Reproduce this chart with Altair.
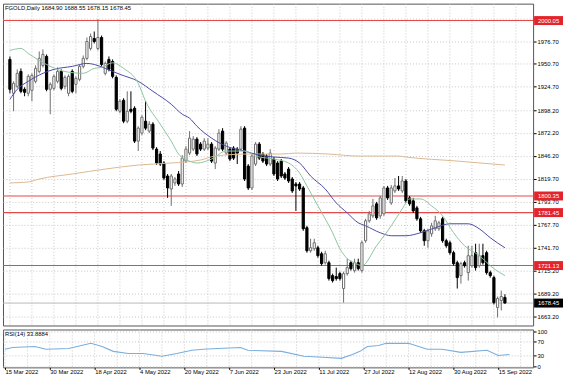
import altair as alt
import pandas as pd

FONT = "Liberation Sans"
FS = 5.9

title_text = "FGOLD,Daily 1684.90 1688.55 1678.15 1678.45"
rsi_title = "RSI(14) 33.8884"

opens = [1955.8, 1917.3, 1925.2, 1942.2, 1921.8, 1917.3, 1920.6, 1930.9, 1942.2, 1949.0,
         1959.2, 1921.8, 1922.9, 1930.9, 1942.2, 1925.2, 1917.3, 1942.2, 1927.5, 1933.1,
         1947.9, 1957.0, 1968.3, 1979.6, 1968.3, 1980.8, 1940.0, 1955.8, 1953.5, 1935.4,
         1896.8, 1909.3, 1885.5, 1899.1, 1900.2, 1862.8, 1871.9, 1885.5, 1874.2, 1882.1,
         1853.7, 1848.1, 1837.9, 1823.1, 1808.3, 1815.2, 1825.4, 1814.0, 1840.1, 1849.2,
         1853.7, 1865.1, 1859.4, 1853.7, 1854.9, 1859.4, 1837.9, 1853.7, 1874.2, 1849.2,
         1853.7, 1854.9, 1853.7, 1853.7, 1877.6, 1834.4, 1809.5, 1836.7, 1859.4, 1848.1,
         1845.8, 1836.7, 1842.4, 1837.9, 1840.1, 1825.4, 1831.0, 1819.7, 1814.0, 1814.0,
         1809.5, 1764.2, 1738.0, 1740.3, 1741.4, 1734.6, 1724.4, 1724.4, 1709.7, 1708.6,
         1712.0, 1695.0, 1712.0, 1724.4, 1715.4, 1724.4, 1715.4, 1749.4, 1772.1, 1777.7,
         1791.4, 1777.7, 1780.0, 1809.5, 1792.5, 1806.1, 1811.8, 1806.1, 1817.4, 1798.2,
         1794.8, 1786.8, 1774.4, 1760.7, 1749.4, 1757.3, 1763.0, 1763.0, 1774.4, 1749.4,
         1747.1, 1735.8, 1724.4, 1709.7, 1724.4, 1713.1, 1721.0, 1735.8, 1721.0, 1732.4,
         1735.8, 1713.1, 1707.4, 1673.4, 1681.3, 1684.90]
highs = [1959.2, 1930.9, 1944.5, 1945.6, 1924.1, 1938.8, 1940.0, 1949.0, 1964.9, 1967.2,
         1961.5, 1929.7, 1938.8, 1946.7, 1944.5, 1937.7, 1938.8, 1944.5, 1936.5, 1950.1,
         1960.3, 1980.8, 1985.3, 1987.6, 2001.5, 1983.0, 1953.5, 1959.2, 1955.8, 1937.7,
         1910.4, 1911.6, 1919.5, 1919.5, 1902.5, 1879.8, 1892.3, 1908.2, 1885.5, 1884.4,
         1856.0, 1851.5, 1840.1, 1825.4, 1825.4, 1822.0, 1828.8, 1846.9, 1857.1, 1874.2,
         1868.5, 1867.4, 1861.7, 1866.2, 1866.2, 1861.7, 1857.1, 1876.4, 1877.6, 1862.8,
         1856.0, 1857.1, 1856.0, 1879.8, 1879.8, 1836.7, 1848.1, 1861.7, 1861.7, 1850.3,
         1848.1, 1853.7, 1844.7, 1840.1, 1842.4, 1827.6, 1833.3, 1822.0, 1816.3, 1816.3,
         1811.8, 1766.4, 1751.7, 1751.7, 1743.7, 1736.9, 1738.0, 1726.7, 1712.0, 1718.8,
         1714.2, 1714.2, 1729.0, 1726.7, 1729.0, 1729.0, 1749.4, 1774.4, 1783.4, 1797.0,
         1793.6, 1800.4, 1811.8, 1811.8, 1812.9, 1820.8, 1823.1, 1823.1, 1819.7, 1800.4,
         1798.2, 1789.1, 1776.6, 1763.0, 1763.0, 1769.8, 1777.7, 1772.1, 1776.6, 1751.7,
         1749.4, 1738.0, 1726.7, 1725.6, 1726.7, 1743.7, 1743.7, 1746.0, 1746.0, 1746.0,
         1738.0, 1715.4, 1709.7, 1685.9, 1692.7, 1688.55]
lows = [1917.3, 1896.8, 1922.9, 1917.3, 1913.9, 1913.9, 1908.2, 1928.6, 1940.0, 1946.7,
        1919.5, 1893.4, 1920.6, 1928.6, 1920.6, 1921.8, 1913.9, 1917.3, 1917.3, 1930.9,
        1945.6, 1954.7, 1966.0, 1974.0, 1966.0, 1947.9, 1937.7, 1942.2, 1934.3, 1896.8,
        1894.6, 1883.2, 1883.2, 1894.6, 1860.6, 1851.5, 1869.6, 1875.3, 1871.9, 1852.6,
        1835.6, 1834.4, 1818.6, 1798.2, 1789.1, 1811.8, 1811.8, 1810.6, 1837.9, 1846.9,
        1851.5, 1845.8, 1851.5, 1851.5, 1852.6, 1837.9, 1831.0, 1851.5, 1851.5, 1846.9,
        1840.1, 1841.3, 1836.7, 1851.5, 1817.4, 1807.2, 1807.2, 1834.4, 1841.3, 1837.9,
        1834.4, 1834.4, 1823.1, 1817.4, 1820.8, 1818.6, 1815.2, 1803.8, 1783.4, 1806.1,
        1760.7, 1735.8, 1735.8, 1738.0, 1730.1, 1721.0, 1722.2, 1704.0, 1701.8, 1704.0,
        1704.0, 1679.0, 1709.7, 1715.4, 1713.1, 1715.4, 1713.1, 1747.1, 1769.8, 1775.5,
        1773.2, 1774.4, 1777.7, 1795.9, 1790.2, 1803.8, 1806.1, 1803.8, 1792.5, 1789.1,
        1781.1, 1772.1, 1758.5, 1743.7, 1741.4, 1753.9, 1760.7, 1760.7, 1747.1, 1741.4,
        1733.5, 1721.0, 1695.0, 1700.6, 1718.8, 1704.0, 1718.8, 1715.4, 1718.8, 1722.2,
        1710.8, 1707.4, 1676.8, 1662.1, 1670.0, 1678.15]
closes = [1921.8, 1928.6, 1940.0, 1919.5, 1918.4, 1936.5, 1937.7, 1945.6, 1957.0, 1961.5,
          1921.8, 1927.5, 1936.5, 1942.2, 1922.9, 1935.4, 1936.5, 1919.5, 1934.3, 1947.9,
          1957.0, 1976.2, 1981.9, 1976.2, 1980.8, 1950.1, 1951.3, 1944.5, 1936.5, 1899.1,
          1908.2, 1885.5, 1896.8, 1896.8, 1862.8, 1877.6, 1890.0, 1877.6, 1882.1, 1854.9,
          1837.9, 1836.7, 1820.8, 1809.5, 1823.1, 1819.7, 1814.0, 1843.5, 1853.7, 1866.2,
          1865.1, 1848.1, 1853.7, 1862.8, 1859.4, 1840.1, 1854.9, 1871.9, 1853.7, 1860.6,
          1842.4, 1843.5, 1849.2, 1876.4, 1819.7, 1809.5, 1845.8, 1859.4, 1843.5, 1840.1,
          1836.7, 1849.2, 1825.4, 1819.7, 1823.1, 1820.8, 1817.4, 1806.1, 1811.8, 1808.3,
          1763.0, 1738.0, 1741.4, 1747.1, 1732.4, 1723.3, 1734.6, 1706.3, 1704.0, 1706.3,
          1706.3, 1712.0, 1718.8, 1717.6, 1724.4, 1717.6, 1747.1, 1772.1, 1780.0, 1789.1,
          1775.5, 1798.2, 1809.5, 1798.2, 1809.5, 1811.8, 1808.3, 1817.4, 1794.8, 1791.4,
          1783.4, 1774.4, 1760.7, 1749.4, 1760.7, 1766.4, 1772.1, 1769.8, 1749.4, 1743.7,
          1735.8, 1723.3, 1707.4, 1723.3, 1721.0, 1732.4, 1732.4, 1718.8, 1732.4, 1724.4,
          1713.1, 1709.7, 1679.0, 1683.6, 1685.9, 1678.45]

# moving averages (bar index, value)
ma_fast_idx = [0, 3, 5, 10, 15, 20, 23, 25, 28, 31, 35, 37, 41, 44, 46, 49, 51, 55, 59, 64, 67, 72,
               76, 79, 81, 84, 88, 90, 92, 94, 96, 100, 104, 107, 109, 112, 115, 118, 121, 124,
               128, 132, 135]
ma_fast = [1966.0, 1968.3, 1962.6, 1950.0, 1942.0, 1940.0, 1945.6, 1946.7, 1952.0, 1945.6,
           1928.6, 1908.2, 1882.1, 1862.8, 1848.1, 1840.1, 1837.9, 1842.4, 1851.5, 1851.5,
           1845.8, 1842.4, 1837.9, 1826.5, 1811.8, 1789.1, 1758.5, 1740.3, 1729.0, 1724.4,
           1721.0, 1743.7, 1766.4, 1785.7, 1797.0, 1797.0, 1789.1, 1777.7, 1758.5, 1743.7,
           1732.4, 1717.6, 1709.7]
ma_mid_idx = [0, 2, 5, 9, 12, 17, 21, 23, 26, 30, 35, 39, 44, 47, 49, 51, 55, 59, 64, 68, 72, 76,
              79, 82, 86, 89, 92, 95, 97, 101, 104, 108, 112, 116, 120, 125, 128, 131, 135]
ma_mid = [1910.4, 1921.8, 1930.9, 1940.0, 1944.5, 1947.9, 1951.3, 1950.1, 1945.6, 1938.8,
          1930.9, 1919.5, 1904.8, 1893.4, 1888.9, 1879.8, 1866.2, 1857.1, 1851.5, 1846.9,
          1844.7, 1843.5, 1837.9, 1823.1, 1808.3, 1792.5, 1781.1, 1769.8, 1766.4, 1758.5,
          1755.1, 1755.1, 1758.5, 1764.2, 1768.7, 1768.7, 1763.0, 1752.8, 1741.4]
ma_slow_idx = [0, 5, 8, 17, 26, 35, 44, 52, 56, 65, 74, 78, 87, 95, 106, 108, 122, 135]
ma_slow = [1815.2, 1816.3, 1819.7, 1825.4, 1831.0, 1835.6, 1837.9, 1841.3, 1845.8, 1848.1,
           1848.1, 1849.2, 1848.1, 1845.8, 1845.8, 1844.7, 1840.1, 1835.6]

rsi_idx = [0, 2, 8, 11, 17, 23, 26, 29, 33, 37, 42, 46, 50, 53, 57, 63, 65, 74, 80, 85, 90, 93,
           95, 97, 100, 102, 108, 113, 117, 122, 129, 132, 135]
rsi_vals = [49, 54, 57, 49, 51, 66, 57, 43, 37, 37, 29, 37, 46, 49, 51, 54, 46, 43, 29, 26, 23,
            34, 43, 57, 60, 66, 66, 49, 49, 40, 46, 31, 33.89]

level_values = [2000.05, 1800.35, 1781.45, 1721.13]
current_price = 1678.45

price_ticks = [2002.70, 1976.70, 1950.70, 1924.70, 1898.20, 1872.20, 1846.20, 1819.70,
               1793.70, 1767.70, 1741.70, 1715.20, 1689.20, 1663.20]
rsi_ticks = [0, 30, 70, 100]

date_labels = ["15 Mar 2022", "30 Mar 2022", "18 Apr 2022", "4 May 2022", "20 May 2022",
               "7 Jun 2022", "23 Jun 2022", "11 Jul 2022", "27 Jul 2022", "12 Aug 2022",
               "30 Aug 2022", "15 Sep 2022"]
date_label_idx = [0, 12, 24, 36, 48, 60, 72, 84, 96, 108, 120, 132]
grid_idx = [0, 6, 12, 18, 24, 30, 36, 42, 48, 54, 60, 66, 72, 78, 84, 90, 96, 102, 108, 114,
            120, 126, 132, 138]

# ---------------------------------------------------------------- data frames
n = len(closes)
candles = pd.DataFrame({"idx": list(range(n)), "open": opens, "high": highs,
                        "low": lows, "close": closes})
candles["dir"] = ["up" if c >= o else "down" for o, c in zip(opens, closes)]
fast_df = pd.DataFrame({"idx": ma_fast_idx, "v": ma_fast})
mid_df = pd.DataFrame({"idx": ma_mid_idx, "v": ma_mid})
slow_df = pd.DataFrame({"idx": ma_slow_idx, "v": ma_slow})
rsi_df = pd.DataFrame({"idx": rsi_idx, "rsi": rsi_vals})
grid_df = pd.DataFrame({"idx": grid_idx})
levels_df = pd.DataFrame({"price": level_values})
current_df = pd.DataFrame({"price": [current_price]})
boxes_df = pd.DataFrame({"price": level_values + [current_price],
                         "kind": ["level"] * len(level_values) + ["current"]})

# ---------------------------------------------------------------- scales / axes
x_scale = alt.Scale(domain=[-0.53, 141.33], nice=False, zero=False)
y_scale = alt.Scale(domain=[1652.9, 2019.3], nice=False, zero=False)
rsi_scale = alt.Scale(domain=[-2.9, 105.7], nice=False, zero=False)

y_axis = alt.Axis(orient="right", values=price_ticks, format=".2f", title=None,
                  labelFont=FONT, labelFontSize=FS, labelColor="#000", tickSize=3,
                  tickColor="#000", domain=False, labelPadding=1, grid=True,
                  gridColor="#c8c8c8", gridDash=[1, 2], gridWidth=1,
                  labelOverlap=False, labelFlush=False)
rsi_axis = alt.Axis(orient="right", values=rsi_ticks, title=None, labelFont=FONT,
                    labelFontSize=FS, labelColor="#000", tickSize=3, tickColor="#000",
                    domain=False, labelPadding=1, grid=True, gridColor="#c8c8c8",
                    gridDash=[1, 2], gridWidth=1, labelOverlap=False, labelFlush=False)
labels_js = "[" + ",".join("'" + s + "'" for s in date_labels) + "]"
idx_js = "[" + ",".join(str(i) for i in date_label_idx) + "]"
x_axis = alt.Axis(values=date_label_idx, labelExpr=f"{labels_js}[indexof({idx_js}, datum.value)]",
                  title=None, grid=False, domain=False, tickSize=2, tickColor="#000",
                  labelAlign="left", labelFont=FONT, labelFontSize=FS, labelColor="#000",
                  labelPadding=-1, labelFlush=False, labelOverlap=False)

X = alt.X("idx:Q", scale=x_scale, axis=None)
stroke_scale = alt.Scale(domain=["up", "down"], range=["#6e6e6e", "#000000"])
fill_scale = alt.Scale(domain=["up", "down"], range=["#ffffff", "#000000"])

W, H_MAIN, H_RSI = 532, 323, 38

# ---------------------------------------------------------------- main panel
vgrid = alt.Chart(grid_df).mark_rule(color="#c8c8c8", strokeDash=[1, 2], strokeWidth=1).encode(x=X)
level_lines = alt.Chart(levels_df).mark_rule(color="#e24a4a", strokeWidth=1.1).encode(
    y=alt.Y("price:Q", scale=y_scale, axis=y_axis))
current_line = alt.Chart(current_df).mark_rule(color="#b9b9b9", strokeWidth=1).encode(
    y=alt.Y("price:Q", scale=y_scale, axis=y_axis))
wicks = alt.Chart(candles).mark_rule(strokeWidth=1).encode(
    x=X, y=alt.Y("low:Q", scale=y_scale, axis=y_axis), y2="high:Q",
    stroke=alt.Stroke("dir:N", scale=stroke_scale, legend=None))
bodies = alt.Chart(candles).mark_bar(size=2.2, strokeWidth=1).encode(
    x=X, y=alt.Y("open:Q", scale=y_scale, axis=y_axis), y2="close:Q",
    fill=alt.Fill("dir:N", scale=fill_scale, legend=None),
    stroke=alt.Stroke("dir:N", scale=stroke_scale, legend=None))


def ma_line(df, color):
    return alt.Chart(df).mark_line(color=color, strokeWidth=1, interpolate="monotone").encode(
        x=X, y=alt.Y("v:Q", scale=y_scale, axis=y_axis))


slow_line = ma_line(slow_df, "#dcb992")
mid_line = ma_line(mid_df, "#4b4ba6")
fast_line = ma_line(fast_df, "#8fc4a0")

title_mark = alt.Chart(pd.DataFrame({"t": [title_text]})).mark_text(
    align="left", baseline="middle", font=FONT, fontSize=FS, color="#000").encode(
    x=alt.value(2), y=alt.value(4), text="t:N")

BOX = "M-1,-0.31L1,-0.31L1,0.31L-1,0.31Z"
boxes = alt.Chart(boxes_df).mark_point(shape=BOX, size=841, filled=True, opacity=1,
                                       strokeWidth=0).encode(
    x=alt.value(547.5), y=alt.Y("price:Q", scale=y_scale, axis=y_axis),
    color=alt.Color("kind:N", scale=alt.Scale(domain=["level", "current"],
                                              range=["#e3242b", "#000000"]), legend=None))
box_text = alt.Chart(boxes_df).mark_text(align="center", baseline="middle", font=FONT,
                                         fontSize=FS, color="#ffffff").encode(
    x=alt.value(547.5), y=alt.Y("price:Q", scale=y_scale, axis=y_axis),
    text=alt.Text("price:Q", format=".2f"))

main = alt.layer(vgrid, level_lines, current_line, wicks, bodies, slow_line, mid_line,
                 fast_line, title_mark, boxes, box_text).properties(width=W, height=H_MAIN)

# ---------------------------------------------------------------- RSI panel
XR = alt.X("idx:Q", scale=x_scale, axis=x_axis)
vgrid_r = alt.Chart(grid_df).mark_rule(color="#c8c8c8", strokeDash=[1, 2], strokeWidth=1).encode(x=XR)
rsi_line = alt.Chart(rsi_df).mark_line(color="#7aaedc", strokeWidth=1.1).encode(
    x=XR, y=alt.Y("rsi:Q", scale=rsi_scale, axis=rsi_axis))
rsi_title_mark = alt.Chart(pd.DataFrame({"t": [rsi_title]})).mark_text(
    align="left", baseline="middle", font=FONT, fontSize=FS, color="#000").encode(
    x=alt.value(2), y=alt.value(4.5), text="t:N")
rsi_panel = alt.layer(vgrid_r, rsi_line, rsi_title_mark).properties(width=W, height=H_RSI)

chart = alt.vconcat(main, rsi_panel, spacing=1).properties(
    padding={"left": 1, "top": 2, "right": 0, "bottom": 0}, background="white"
).configure_view(stroke="#555555", strokeWidth=1)

chart.save("out.html", embed_options={"renderer": "svg", "actions": False})
